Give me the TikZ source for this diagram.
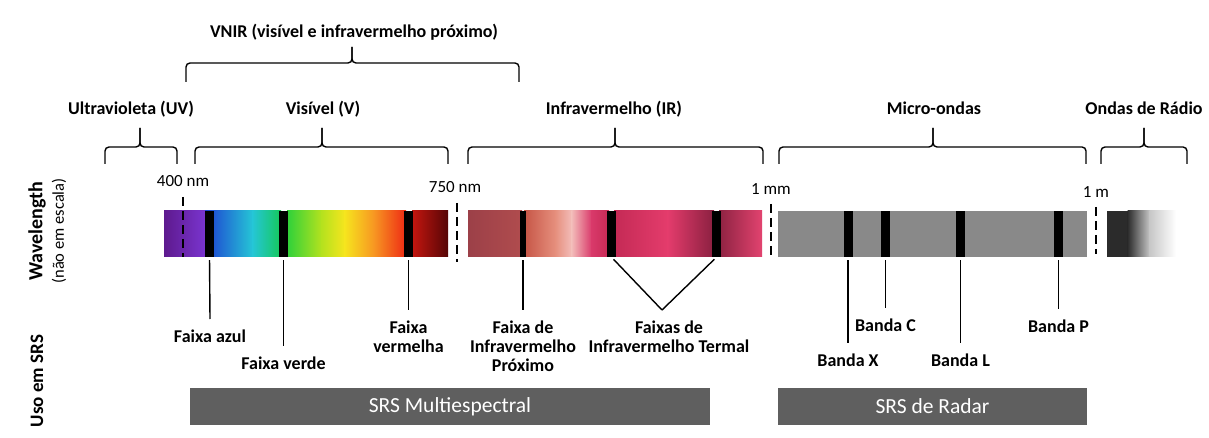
\documentclass[tikz,border=0pt]{standalone}
\usepackage{fontspec}
\setmainfont{Carlito}
\usetikzlibrary{positioning}

\definecolor{boxgray}{HTML}{5F5F5F}
\definecolor{mwgray}{HTML}{898989}

\begin{document}
\begin{tikzpicture}[x=1pt, y=-1pt,
  lbl/.style={font=\bfseries\fontsize{18}{19}\selectfont, align=center, inner sep=0pt},
  tag/.style={font=\fontsize{17}{19}\selectfont, inner sep=0pt},
  bandmark/.style={fill=black, inner sep=0pt, minimum width=9pt, minimum height=46pt},
  lead/.style={line width=1.4pt, shorten <=3pt},
  bracket/.style={line width=1.4pt, rounded corners=4pt},
  sep/.style={line width=1.4pt, dash pattern=on 9pt off 5pt},
  srsbox/.style={fill=boxgray, text=white, font=\fontsize{21.5}{23}\selectfont, minimum height=37pt, inner sep=0pt}]
\useasboundingbox[fill=white] (0,0) rectangle (1209,438);

%region labels
\node[lbl, anchor=base] (vnir) at (354,38) {VNIR (visível e infravermelho próximo)};
\node[lbl, anchor=base] (uv) at (131,115) {Ultravioleta (UV)};
\node[lbl, anchor=base] (vis) at (323,115) {Visível (V)};
\node[lbl, anchor=base] (ir) at (614,115) {Infravermelho (IR)};
\node[lbl, anchor=base] (mw) at (934,115) {Micro-ondas};
\node[lbl, anchor=base] (radio) at (1144,115) {Ondas de Rádio};

%braces
\draw[bracket] (186,82) |- (352,63) -- (352,47);
\draw[bracket] (519,82) |- (352,63) -- (352,47);
\foreach \xa/\xb/\xc in {105/177/140, 195/448/322, 468/763/615, 779/1086/933, 1101/1187/1144}{
  \draw[bracket] (\xa,164) |- (\xc,147) -- (\xc,128);
  \draw[bracket] (\xb,164) |- (\xc,147) -- (\xc,128);
}

%wavelength marks
\node[tag, anchor=base] (nm400) at (183,187) {400 nm};
\node[tag, anchor=base] (nm750) at (455,193) {750 nm};
\node[tag, anchor=base] (mm1) at (771,195) {1 mm};
\node[tag, anchor=base] (m1) at (1096,198) {1 m};

%visible bar
\shade[left color={rgb,255:red,94;green,26;blue,142}, right color={rgb,255:red,122;green,53;blue,208}] (164,211) rectangle (206,257);
\shade[left color={rgb,255:red,30;green,63;blue,210}, right color={rgb,255:red,37;green,198;blue,214}] (205,211) rectangle (253,257);
\shade[left color={rgb,255:red,37;green,198;blue,214}, right color={rgb,255:red,21;green,201;blue,90}] (252.5,211) rectangle (281,257);
\shade[left color={rgb,255:red,46;green,209;blue,58}, right color={rgb,255:red,181;green,226;blue,30}] (287,211) rectangle (322,257);
\shade[left color={rgb,255:red,181;green,226;blue,30}, right color={rgb,255:red,246;green,229;blue,30}] (321.5,211) rectangle (345,257);
\shade[left color={rgb,255:red,246;green,229;blue,30}, right color={rgb,255:red,247;green,148;blue,34}] (344.5,211) rectangle (375,257);
\shade[left color={rgb,255:red,247;green,148;blue,34}, right color={rgb,255:red,238;green,42;blue,20}] (374.5,211) rectangle (406,257);
\shade[left color={rgb,255:red,196;green,22;blue,15}, right color={rgb,255:red,86;green,6;blue,6}] (412,211) rectangle (448,257);

%infrared bar
\shade[left color={rgb,255:red,156;green,64;blue,72}, right color={rgb,255:red,176;green,76;blue,78}] (468,211) rectangle (522,257);
\shade[left color={rgb,255:red,198;green,85;blue,70}, right color={rgb,255:red,230;green,144;blue,126}] (524,211) rectangle (556,257);
\shade[left color={rgb,255:red,230;green,144;blue,126}, right color={rgb,255:red,243;green,189;blue,186}] (555.5,211) rectangle (572,257);
\shade[left color={rgb,255:red,243;green,189;blue,186}, right color={rgb,255:red,217;green,57;blue,106}] (571.5,211) rectangle (592,257);
\shade[left color={rgb,255:red,217;green,57;blue,106}, right color={rgb,255:red,199;green,42;blue,85}] (591.5,211) rectangle (609,257);
\shade[left color={rgb,255:red,196;green,42;blue,85}, right color={rgb,255:red,228;green,60;blue,108}] (614,211) rectangle (668,257);
\shade[left color={rgb,255:red,228;green,60;blue,108}, right color={rgb,255:red,138;green,32;blue,64}] (667.5,211) rectangle (714,257);
\shade[left color={rgb,255:red,142;green,35;blue,66}, right color={rgb,255:red,226;green,67;blue,111}] (719,211) rectangle (762,257);

%microwave and radio bars
\fill[mwgray] (778,211) rectangle (1087,257);
\fill[black!83] (1107,211) rectangle (1128,257);
\shade[left color=black!83, right color=black!22] (1127.5,211) rectangle (1150,257);
\shade[left color=black!22, right color=white] (1149.5,211) rectangle (1176,257);

%band marks
\node[bandmark] (bBlue) at (209.5,234) {};
\node[bandmark] (bGreen) at (283.5,234) {};
\node[bandmark] (bRed) at (408.5,234) {};
\node[bandmark, minimum width=6pt] (bNir) at (523,234) {};
\node[bandmark] (bTirA) at (611.5,234) {};
\node[bandmark] (bTirB) at (716.5,234) {};
\node[bandmark] (bX) at (848,234) {};
\node[bandmark] (bC) at (885.5,234) {};
\node[bandmark] (bL) at (960.5,234) {};
\node[bandmark] (bP) at (1058.5,234) {};

%limits
\draw[sep] (183,197) -- (183,257);
\draw[sep] (457,203) -- (457,262);
\draw[sep] (771,204) -- (771,258);
\draw[sep] (1096,207) -- (1096,254);

%band labels
\coordinate (eBlue) at (210,319);
\coordinate (eGreen) at (283.5,346);
\coordinate (eRed) at (408.5,310);
\coordinate (eNir) at (523,310);
\coordinate (eTir) at (662,310);
\coordinate (eX) at (848,343);
\coordinate (eC) at (885.5,308);
\coordinate (eL) at (960.5,343);
\coordinate (eP) at (1058.5,309);

\node[lbl, below=11pt of eBlue] (lBlue) {Faixa azul};
\node[lbl, below=11pt of eGreen] (lGreen) {Faixa verde};
\node[lbl, below=11pt of eRed] (lRed) {Faixa\\vermelha};
\node[lbl, below=11pt of eNir] (lNir) {Faixa de\\Infravermelho\\Próximo};
\node[lbl, below=11pt of eTir, xshift=7pt] (lTir) {Faixas de\\Infravermelho Termal};
\node[lbl, below=11pt of eX] (lX) {Banda X};
\node[lbl, below=11pt of eC] (lC) {Banda C};
\node[lbl, below=11pt of eL] (lL) {Banda L};
\node[lbl, below=11pt of eP] (lP) {Banda P};

\draw[lead] (bBlue.south) -- (eBlue);
\draw[lead] (bGreen.south) -- (eGreen);
\draw[lead] (bRed.south) -- (eRed);
\draw[lead] (bNir.south) -- (eNir);
\draw[lead] (bTirA.south) -- (eTir);
\draw[lead] (bTirB.south) -- (eTir);
\draw[lead] (bX.south) -- (eX);
\draw[lead] (bC.south) -- (eC);
\draw[lead] (bL.south) -- (eL);
\draw[lead] (bP.south) -- (eP);

%side titles
\node[rotate=90, font=\bfseries\fontsize{20}{22}\selectfont, inner sep=0pt] (wl) at (37,231) {Wavelength};
\node[rotate=90, font=\fontsize{16.5}{18}\selectfont, inner sep=0pt] (nscale) at (59,231) {(não em escala)};
\node[rotate=90, font=\bfseries\fontsize{19}{21}\selectfont, inner sep=0pt] (uso) at (37,381) {Uso em SRS};

%use boxes
\node[srsbox, minimum width=520pt] (mBox) at (450,406.5) {SRS Multiespectral};
\node[srsbox, minimum width=309pt] (rBox) at (932.5,406.5) {SRS de Radar};
\end{tikzpicture}
\end{document}
